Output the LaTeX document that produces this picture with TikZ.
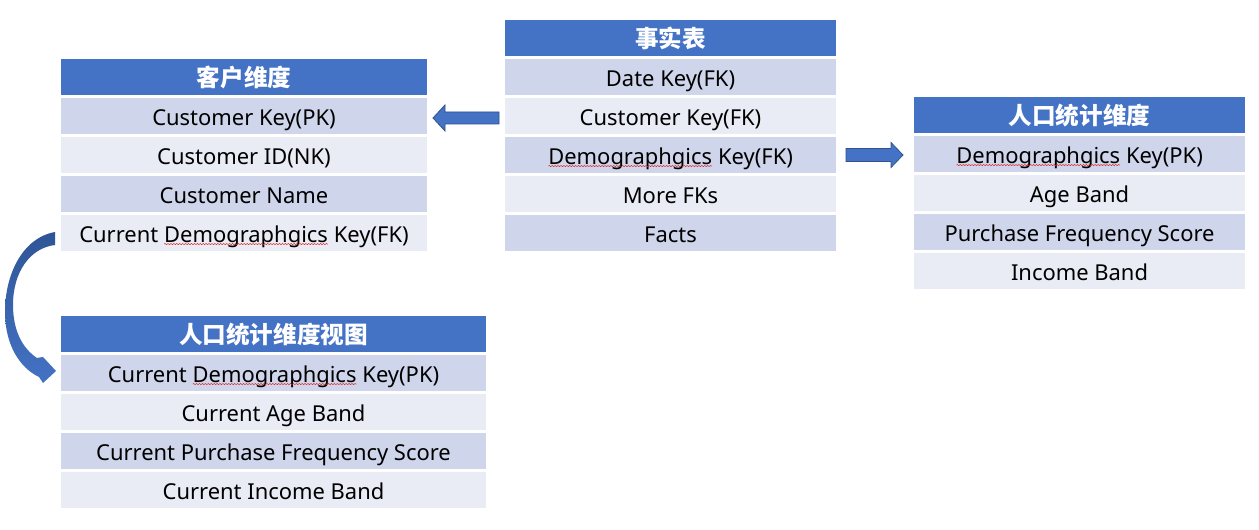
\documentclass[tikz,border=0pt]{standalone}
\usepackage{fontspec}
\setmainfont{Noto Sans}
\newfontfamily\cjk{Noto Sans CJK SC}
\usetikzlibrary{decorations.pathmorphing,calc}
\definecolor{hdr}{HTML}{4472C4}
\definecolor{rowA}{HTML}{CFD5EA}
\definecolor{rowB}{HTML}{E9EBF5}
\definecolor{edge}{HTML}{2F528F}
\definecolor{deep}{HTML}{2E5596}
\definecolor{spell}{HTML}{E02020}
\newcommand\squig[1]{\tikz[baseline=(sq.base)]{\node[inner sep=0pt,outer sep=0pt,minimum width=0pt,minimum height=0pt,text height=,text depth=,fill=none,draw=none,anchor=base] (sq) at (0,0) {#1};\draw[spell, line width=0.35pt, decorate, decoration={snake, amplitude=0.45pt, segment length=2.2pt}] ([yshift=-1.4pt]sq.base west) -- ([yshift=-1.4pt]sq.base east);}}
\begin{document}
\begin{tikzpicture}[x=0.75pt,y=-0.75pt,
  cell/.style={anchor=north west, inner sep=0pt, outer sep=0pt, minimum height=27pt, text height=20.4pt, text depth=6.6pt, text=black, font=\fontsize{16.45}{18}\selectfont},
  hd/.style={cell, fill=hdr, text=white, font=\cjk\bfseries\fontsize{17.7}{20}\selectfont},
  ra/.style={cell, fill=rowA},
  rb/.style={cell, fill=rowB},
  wa/.style={minimum width=274.5pt},
  wb/.style={minimum width=248.25pt},
  wc/.style={minimum width=318.75pt},
  blk/.style={fill=hdr, draw=edge, line width=0.6pt}]
\fill[white] (0,0) rectangle (1259,530);
\useasboundingbox (0,0) rectangle (1259,530);
% customer dimension
\node[hd,wa] (c0) at (61,59) {客户维度};
\node[ra,wa] (c1) at (61,98) {Customer Key(PK)};
\node[rb,wa] (c2) at (61,137) {Customer ID(NK)};
\node[ra,wa] (c3) at (61,176) {Customer Name};
\node[rb,wa] (c4) at (61,215) {Current \squig{Demographgics} Key(FK)};
% fact table
\node[hd,wb] (f0) at (505,20) {事实表};
\node[ra,wb] (f1) at (505,59) {Date Key(FK)};
\node[rb,wb] (f2) at (505,98) {Customer Key(FK)};
\node[ra,wb] (f3) at (505,137) {\squig{Demographgics} Key(FK)};
\node[rb,wb] (f4) at (505,176) {More FKs};
\node[ra,wb] (f5) at (505,215) {Facts};
% demographics dimension
\node[hd,wb] (d0) at (914,97) {人口统计维度};
\node[ra,wb] (d1) at (914,136) {\squig{Demographgics} Key(PK)};
\node[rb,wb] (d2) at (914,175) {Age Band};
\node[ra,wb] (d3) at (914,214) {Purchase Frequency Score};
\node[rb,wb] (d4) at (914,253) {Income Band};
% view
\node[hd,wc] (v0) at (61,316) {人口统计维度视图};
\node[ra,wc] (v1) at (61,355) {Current \squig{Demographgics} Key(PK)};
\node[rb,wc] (v2) at (61,394) {Current Age Band};
\node[ra,wc] (v3) at (61,433) {Current Purchase Frequency Score};
\node[rb,wc] (v4) at (61,472) {Current Income Band};
% block arrows
\coordinate (lt) at ($(c1.east)+(6,2)$);
\draw[blk] (lt) -- ++(12,-13) -- ++(0,7) -- ++(54,0) -- ++(0,12) -- ++(-54,0) -- ++(0,7) -- cycle;
\coordinate (rt) at ($(f3.east)+(10,-6.5)$);
\draw[blk] (rt) -- ++(45,0) -- ++(0,-6) -- ++(12,12.5) -- ++(-12,12.5) -- ++(0,-6) -- ++(-45,0) -- cycle;
% curved arrow
\shade[top color=deep, bottom color=hdr]
  (55,232) .. controls (22,238) and (5,275) .. (5,312)
  .. controls (5,345) and (20,368) .. (39,377)
  -- (43,383) -- (56,371) -- (43,357) -- (37,358)
  .. controls (22,348) and (13,330) .. (13,305)
  .. controls (13,272) and (30,248) .. (55,245) -- cycle;
\end{tikzpicture}
\end{document}
